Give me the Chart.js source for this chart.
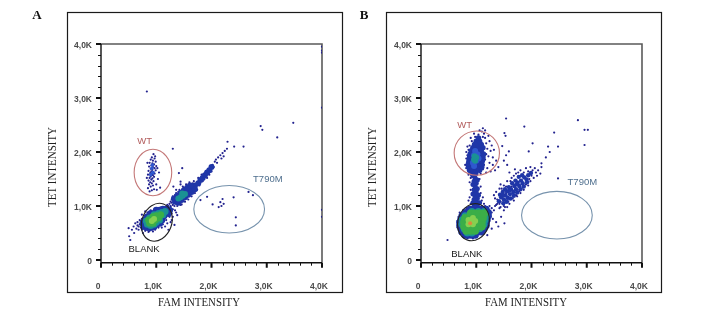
<!DOCTYPE html>
<html>
<head>
<meta charset="utf-8">
<script src="https://cdn.jsdelivr.net/npm/chart.js@4.4.1/dist/chart.umd.min.js"></script>
<style>
  body { margin: 0; background: #fff; width: 708px; height: 309px; position: relative; overflow: hidden; }
  .panel { position: absolute; top: 0; width: 325px; height: 309px; }
</style>
</head>
<body>
<div class="panel" style="left:25px"><canvas id="chartA" width="325" height="309"></canvas></div>
<div class="panel" style="left:345px"><canvas id="chartB" width="325" height="309"></canvas></div>
<script>
/* Axes (values in K) */
const majorTicks = [0, 1, 2, 3, 4];
const tickLabels = ["0", "1,0K", "2,0K", "3,0K", "4,0K"];
const minorTicks = [0.2, 0.4, 0.6, 0.8, 1.2, 1.4, 1.6, 1.8, 2.2, 2.4, 2.6, 2.8, 3.2, 3.4, 3.6, 3.8];

/* Panel A droplets [FAM, TET] in K */
const aBlankBody = [[0.78,0.62],[0.84,0.60],[0.90,0.60],[0.96,0.62],[0.76,0.68],[0.82,0.68],[0.88,0.66],[0.94,0.66],[1.00,0.66],[1.06,0.68],[0.80,0.74],[0.86,0.74],[0.92,0.72],[0.98,0.72],[1.04,0.74],[1.10,0.74],[0.84,0.80],[0.90,0.80],[0.96,0.80],[1.02,0.80],[1.08,0.80],[1.14,0.82],[0.90,0.86],[0.96,0.86],[1.02,0.86],[1.08,0.86],[1.14,0.88],[1.20,0.88],[1.00,0.92],[1.06,0.92],[1.12,0.94],[1.18,0.94],[1.24,0.92],[1.22,0.86]];
const aBlankTeal = [[0.84,0.66],[0.90,0.64],[0.96,0.66],[0.82,0.72],[0.88,0.70],[0.94,0.70],[1.00,0.70],[1.06,0.74],[0.88,0.78],[0.94,0.78],[1.00,0.78],[1.06,0.80],[1.12,0.84],[0.96,0.84],[1.04,0.86],[1.10,0.88],[1.16,0.90]];
const aBlankGreen = [[0.88,0.68],[0.94,0.68],[0.86,0.74],[0.92,0.74],[0.98,0.74],[1.04,0.78],[0.94,0.80],[1.00,0.82],[1.08,0.84],[0.90,0.72]];
const aBlankLight = [[0.92,0.72],[0.96,0.76]];
const aBlankDots = [[0.72,0.60],[0.70,0.66],[0.74,0.56],[0.80,0.54],[0.88,0.54],[0.98,0.56],[1.04,0.60],[1.12,0.66],[1.18,0.74],[1.24,0.80],[1.28,0.86],[1.30,0.94],[1.26,0.98],[1.18,0.99],[1.08,0.97],[0.98,0.95],[0.90,0.92],[0.84,0.88],[0.78,0.82],[0.74,0.76],[0.72,0.72],[1.28,0.74],[1.33,0.65],[1.22,0.56],[1.38,0.83],[1.16,0.62],[1.34,0.92],[0.50,0.59],[0.56,0.56],[0.59,0.62],[0.51,0.44],[0.62,0.68],[0.68,0.62],[0.53,0.37],[0.64,0.58],[0.66,0.70],[0.60,0.50],[1.26,1.00],[1.30,1.02],[1.28,1.06],[1.33,1.00],[1.24,1.04],[1.22,1.00],[0.68,0.56],[0.76,0.50],[0.86,0.52],[0.94,0.53],[1.10,0.60],[1.20,0.68],[1.26,0.70],[1.30,0.80],[1.36,0.88],[1.32,1.06],[1.20,1.02],[0.80,0.90],[0.74,0.84],[0.70,0.74],[0.66,0.64]];
const aMidBody = [[1.34,1.08],[1.40,1.13],[1.46,1.18],[1.52,1.23],[1.58,1.28],[1.64,1.33],[1.70,1.38],[1.32,1.14],[1.38,1.19],[1.44,1.24],[1.50,1.29],[1.56,1.34],[1.62,1.38],[1.40,1.06],[1.46,1.11],[1.52,1.16],[1.58,1.21],[1.64,1.26],[1.70,1.31],[1.76,1.42],[1.80,1.48],[1.84,1.52],[1.88,1.57],[1.92,1.62],[1.96,1.66],[2.00,1.72]];
const aMidTeal = [[1.44,1.16],[1.48,1.19],[1.52,1.22],[1.47,1.23],[1.40,1.14]];
const aMidDots = [[1.28,1.12],[1.30,1.18],[1.36,1.24],[1.42,1.30],[1.48,1.36],[1.54,1.40],[1.60,1.44],[1.68,1.46],[1.76,1.44],[1.78,1.38],[1.74,1.30],[1.70,1.24],[1.64,1.18],[1.58,1.12],[1.52,1.08],[1.46,1.03],[1.38,1.00],[1.36,1.30],[1.44,1.40],[1.80,1.50],[1.86,1.58],[1.90,1.60],[1.94,1.68],[1.98,1.74],[2.02,1.76],[2.06,1.82],[2.08,1.86],[2.12,1.90],[2.16,1.94],[2.20,1.98],[2.24,2.02],[2.28,2.06],[2.04,1.72],[1.82,1.58],[2.10,1.80],[2.18,1.88],[2.22,1.92],[1.76,1.52],[1.84,1.46],[1.92,1.52],[1.96,1.58],[2.00,1.64],[1.26,1.08],[1.34,1.20],[1.40,1.26],[1.50,1.34],[1.58,1.40],[1.66,1.42],[1.72,1.36],[1.68,1.28],[1.62,1.22],[1.56,1.16],[1.48,1.10],[1.42,1.04],[1.36,1.04]];
const aWtDots = [[0.95,1.96],[0.92,1.90],[0.97,1.88],[0.90,1.86],[0.94,1.84],[0.99,1.82],[0.88,1.80],[0.93,1.79],[0.96,1.77],[0.91,1.75],[1.00,1.74],[0.87,1.73],[0.94,1.72],[0.97,1.70],[0.90,1.69],[0.93,1.67],[0.99,1.66],[0.86,1.65],[0.91,1.64],[0.95,1.63],[0.89,1.61],[0.97,1.60],[0.92,1.59],[0.85,1.58],[0.94,1.57],[0.90,1.55],[0.96,1.54],[0.88,1.52],[0.93,1.51],[0.91,1.49],[0.86,1.47],[0.95,1.46],[0.89,1.44],[0.92,1.42],[0.87,1.40],[0.94,1.38],[0.90,1.36],[0.85,1.33],[0.96,1.31],[0.92,1.29],[0.88,1.27],[1.02,1.70],[1.05,1.62],[1.03,1.50],[1.07,1.34],[0.84,1.80],[0.83,1.52],[1.00,1.40],[1.01,1.30],[0.98,1.92]];
const aWtBody = [[0.92,1.70],[0.94,1.62],[0.90,1.58],[0.93,1.76]];
const aStray = [[1.30,2.06],[1.47,1.70],[1.41,1.61],[1.44,1.45],[1.31,1.36],[2.29,2.19],[2.41,2.10],[2.58,2.10],[2.89,2.48],[2.92,2.41],[3.19,2.27],[3.48,2.54],[1.80,1.11],[1.92,1.17],[1.44,1.02],[0.83,3.12],[4.0,3.95],[4.0,3.88],[4.0,3.84],[4.0,2.82],[4.0,0.93],[4.0,0.80],[2.02,1.03],[2.16,1.07],[2.20,1.13],[2.13,0.98],[2.40,1.16],[2.67,1.26],[2.75,1.20],[2.44,0.79],[2.44,0.64],[2.18,1.00],[2.22,1.04]];

/* Panel B droplets [FAM, TET] in K */
const bBlankBody = [[0.80,0.46],[0.86,0.46],[0.92,0.46],[0.98,0.46],[0.74,0.52],[0.80,0.52],[0.86,0.52],[0.92,0.52],[0.98,0.52],[1.04,0.52],[1.10,0.52],[0.72,0.58],[0.78,0.58],[0.84,0.58],[0.90,0.58],[0.96,0.58],[1.02,0.58],[1.08,0.58],[1.14,0.58],[0.70,0.64],[0.76,0.64],[0.82,0.64],[0.88,0.64],[0.94,0.64],[1.00,0.64],[1.06,0.64],[1.12,0.64],[1.18,0.64],[0.70,0.70],[0.76,0.70],[0.82,0.70],[0.88,0.70],[0.94,0.70],[1.00,0.70],[1.06,0.70],[1.12,0.70],[1.18,0.70],[0.72,0.76],[0.78,0.76],[0.84,0.76],[0.90,0.76],[0.96,0.76],[1.02,0.76],[1.08,0.76],[1.14,0.76],[1.20,0.76],[0.74,0.82],[0.80,0.82],[0.86,0.82],[0.92,0.82],[0.98,0.82],[1.04,0.82],[1.10,0.82],[1.16,0.82],[1.22,0.82],[0.80,0.88],[0.86,0.88],[0.92,0.88],[0.98,0.88],[1.04,0.88],[1.10,0.88],[1.16,0.88],[1.22,0.88],[0.88,0.94],[0.94,0.94],[1.00,0.94],[1.06,0.94],[1.12,0.94],[1.18,0.94]];
const bBlankTeal = [[0.84,0.50],[0.92,0.50],[0.78,0.58],[1.06,0.58],[0.74,0.66],[1.14,0.66],[0.74,0.74],[1.16,0.74],[0.80,0.82],[1.18,0.82],[0.92,0.90],[1.04,0.90],[1.14,0.90]];
const bBlankGreen = [[0.82,0.54],[0.90,0.54],[0.98,0.54],[0.78,0.62],[0.86,0.62],[0.94,0.62],[1.02,0.62],[1.10,0.62],[0.78,0.70],[0.86,0.70],[0.94,0.70],[1.02,0.70],[1.10,0.70],[0.80,0.78],[0.88,0.78],[0.96,0.78],[1.04,0.78],[1.12,0.78],[0.90,0.86],[0.98,0.86],[1.06,0.86],[1.14,0.86]];
const bBlankLight = [[0.86,0.66],[0.94,0.66],[0.90,0.72],[0.98,0.72],[0.86,0.74],[0.94,0.78]];
const bBlankCentre = [[0.89,0.68]];
const bBlankDots = [[0.66,0.60],[0.66,0.72],[0.68,0.80],[0.70,0.88],[0.76,0.92],[0.82,0.96],[0.70,0.50],[0.76,0.44],[0.84,0.40],[0.94,0.40],[1.02,0.44],[1.10,0.48],[1.18,0.56],[1.22,0.64],[1.24,0.72],[1.26,0.80],[1.28,0.88],[1.28,0.96],[1.24,1.00],[1.16,1.00],[1.30,0.76],[1.32,0.92],[1.34,1.00],[0.48,0.37],[1.51,0.68],[1.40,0.62],[1.36,0.70],[1.45,0.80],[1.50,0.92],[1.42,0.96],[1.38,1.04],[1.44,1.08],[1.56,0.98],[1.20,0.46],[1.28,0.58]];
const bStemBody = [[0.96,1.00],[1.02,1.02],[0.94,1.06],[1.00,1.08],[1.06,1.06],[0.96,1.12],[1.02,1.14],[0.98,1.18],[1.04,1.20],[0.94,1.22],[1.00,1.26],[0.96,1.30],[1.02,1.32],[0.98,1.36],[0.94,1.40],[1.00,1.42],[0.96,1.46],[1.02,1.48],[0.98,1.52],[0.94,1.56]];
const bStemDots = [[0.90,1.04],[1.10,1.10],[0.88,1.16],[1.08,1.24],[0.90,1.30],[1.08,1.36],[0.88,1.44],[1.06,1.50],[0.90,1.52],[1.10,1.00],[1.14,1.04],[1.12,1.16],[0.86,1.10]];
const bWtBody = [[0.93,1.60],[0.99,1.60],[0.88,1.66],[0.94,1.66],[1.00,1.66],[1.06,1.66],[0.86,1.72],[0.92,1.72],[0.98,1.72],[1.04,1.72],[1.10,1.72],[0.86,1.78],[0.92,1.78],[0.98,1.78],[1.04,1.78],[1.10,1.78],[0.87,1.84],[0.93,1.84],[0.99,1.84],[1.05,1.84],[1.11,1.84],[0.88,1.90],[0.94,1.90],[1.00,1.90],[1.06,1.90],[1.12,1.90],[0.89,1.96],[0.95,1.96],[1.01,1.96],[1.07,1.96],[1.13,1.96],[0.91,2.02],[0.97,2.02],[1.03,2.02],[1.09,2.02],[0.94,2.08],[1.00,2.08],[1.06,2.08],[1.12,2.08],[0.97,2.14],[1.03,2.14],[1.09,2.14],[1.00,2.20],[1.06,2.20],[1.04,2.26]];
const bWtBlue = [[0.94,1.80],[1.00,1.84],[0.96,1.94],[1.02,1.96],[0.98,2.02],[0.96,1.74],[1.04,1.88]];
const bWtTeal = [[0.96,1.86],[1.00,1.90],[0.98,1.84],[0.97,1.92]];
const bWtDots = [[0.82,1.70],[0.84,1.82],[0.84,1.94],[0.86,2.04],[0.88,2.12],[0.92,2.20],[0.98,2.28],[1.04,2.32],[1.10,2.38],[1.14,2.34],[1.16,2.26],[1.18,2.16],[1.20,2.06],[1.18,1.96],[1.16,1.86],[1.14,1.76],[1.12,1.68],[1.08,1.60],[0.88,1.62],[1.26,2.02],[1.30,1.90],[1.24,1.80],[1.22,2.30],[1.06,2.40],[1.28,2.12],[1.12,2.28],[1.20,1.70],[1.26,1.64],[1.36,1.84],[1.40,1.72],[1.34,1.66],[0.80,1.76],[0.82,1.88],[0.82,2.00],[0.84,2.10],[1.22,1.92],[1.24,2.20],[1.16,2.40],[1.12,2.44],[0.96,2.34],[0.90,2.26],[1.30,1.76],[1.32,2.04],[0.86,1.58],[1.18,1.62]];
const bMidBody = [[1.41,1.09],[1.45,1.16],[1.50,1.12],[1.53,1.20],[1.57,1.15],[1.56,1.27],[1.61,1.22],[1.63,1.31],[1.67,1.26],[1.69,1.37],[1.72,1.31],[1.75,1.43],[1.78,1.37],[1.81,1.47],[1.84,1.42],[1.87,1.53],[1.91,1.49],[1.94,1.57],[1.99,1.61],[1.43,1.21],[1.48,1.26],[1.52,1.31],[1.59,1.35],[1.65,1.42],[1.71,1.47],[1.77,1.54],[1.83,1.57],[1.49,1.05],[1.55,1.08],[1.62,1.14],[1.68,1.19],[1.74,1.25],[1.80,1.31],[1.86,1.36],[1.92,1.44],[1.47,1.19],[1.60,1.29],[1.73,1.40]];
const bMidDots = [[1.36,1.02],[1.34,1.14],[1.36,1.26],[1.42,1.32],[1.50,1.38],[1.56,1.46],[1.64,1.52],[1.72,1.60],[1.80,1.66],[1.90,1.70],[1.98,1.72],[2.06,1.70],[2.12,1.66],[2.16,1.60],[2.10,1.56],[2.04,1.52],[1.98,1.46],[1.94,1.38],[1.86,1.30],[1.80,1.24],[1.74,1.18],[1.68,1.10],[1.60,1.04],[1.52,0.98],[1.44,0.98],[1.60,1.62],[1.70,1.68],[2.18,1.72],[1.44,1.40],[1.32,1.20],[1.38,1.12],[1.46,1.32],[1.54,1.36],[1.62,1.46],[1.68,1.56],[1.76,1.62],[1.86,1.62],[1.94,1.64],[2.02,1.66],[2.08,1.62],[1.96,1.50],[1.90,1.40],[1.84,1.34],[1.78,1.28],[1.72,1.20],[1.66,1.14],[1.58,1.08],[1.50,1.00],[1.42,1.04],[2.00,1.56],[1.64,1.36],[1.54,1.24]];
const bStray = [[1.54,2.62],[1.87,2.47],[2.84,2.59],[2.96,2.41],[3.02,2.41],[2.96,2.13],[2.41,2.36],[2.02,2.16],[2.30,2.10],[2.48,2.10],[2.18,1.79],[2.48,1.51],[1.51,2.35],[1.54,1.94],[1.53,2.30],[1.47,2.11],[1.95,2.01],[2.33,2.00],[1.59,2.01],[1.50,1.84],[1.56,1.76],[2.26,1.90]];

/* Gates: [name, centre FAM, centre TET, radius FAM, radius TET, tilt deg] */
const aGates = [["WT", 0.94, 1.62, 0.34, 0.43, 0], ["BLANK", 1.01, 0.70, 0.27, 0.36, 20], ["T790M", 2.32, 0.94, 0.64, 0.44, 0]];
const bGates = [["WT", 1.01, 1.98, 0.41, 0.41, 0], ["BLANK", 0.95, 0.70, 0.28, 0.35, 20], ["T790M", 2.46, 0.83, 0.64, 0.44, 0]];
/* Gate labels: [text, FAM, TET] */
const aGateLabels = [["WT", 0.79, 2.20], ["BLANK", 0.78, 0.20], ["T790M", 3.02, 1.50]];
const bGateLabels = [["WT", 0.79, 2.49], ["BLANK", 0.83, 0.10], ["T790M", 2.92, 1.43]];

const gateColor = { WT: "#c47878", BLANK: "#222222", T790M: "#7793ad" };
const labelColor = { WT: "#b25c5c", BLANK: "#1a1a1a", T790M: "#4f6f8e" };

const NAVY = "#23238f";
const BODY = "#1f36a8";
const BLUE = "#2f58cf";
const TEAL = "#1a9294";
const GREEN = "#3bae48";
const LIGHT = "#86d050";
const ORANGE = "#d98a3c";

function layer(points, color, radius) {
  return {
    data: points.map((p) => ({ x: p[0], y: p[1] })),
    pointRadius: radius,
    pointBackgroundColor: color,
    pointBorderWidth: 0,
    showLine: false
  };
}

/* Decorations: frame, ticks, gates, titles */
const panelDecor = {
  id: "panelDecor",
  beforeDatasetsDraw(chart, args, opts) {
    const ctx = chart.ctx;
    const xs = chart.scales.x;
    const ys = chart.scales.y;
    const a = chart.chartArea;
    ctx.save();
    // grey frame top + right
    ctx.strokeStyle = "#5a5a5a";
    ctx.lineWidth = 1.6;
    ctx.beginPath();
    ctx.moveTo(a.left, a.top);
    ctx.lineTo(a.right, a.top);
    ctx.lineTo(a.right, a.bottom);
    ctx.stroke();
    // axes
    ctx.strokeStyle = "#111";
    ctx.lineWidth = 1.4;
    ctx.beginPath();
    ctx.moveTo(a.left, a.top);
    ctx.lineTo(a.left, a.bottom);
    ctx.lineTo(a.right, a.bottom);
    ctx.stroke();
    // ticks
    ctx.lineWidth = 1;
    minorTicks.forEach((v) => {
      const px = Math.round(xs.getPixelForValue(v)) + 0.5;
      const py = Math.round(ys.getPixelForValue(v)) + 0.5;
      ctx.beginPath();
      ctx.moveTo(px, a.bottom);
      ctx.lineTo(px, a.bottom + 3);
      ctx.moveTo(a.left, py);
      ctx.lineTo(a.left - 3, py);
      ctx.stroke();
    });
    ctx.lineWidth = 2;
    majorTicks.forEach((v) => {
      const px = xs.getPixelForValue(v);
      const py = ys.getPixelForValue(v);
      ctx.beginPath();
      ctx.moveTo(px, a.bottom);
      ctx.lineTo(px, a.bottom + 5);
      ctx.moveTo(a.left, py);
      ctx.lineTo(a.left - 5, py);
      ctx.stroke();
    });
    ctx.restore();
  },
  afterDatasetsDraw(chart, args, opts) {
    const ctx = chart.ctx;
    const xs = chart.scales.x;
    const ys = chart.scales.y;
    ctx.save();
    ctx.lineWidth = 1.1;
    opts.gates.forEach((g) => {
      const cx = xs.getPixelForValue(g[1]);
      const cy = ys.getPixelForValue(g[2]);
      const rx = xs.getPixelForValue(g[1] + g[3]) - cx;
      const ry = cy - ys.getPixelForValue(g[2] + g[4]);
      ctx.strokeStyle = gateColor[g[0]];
      ctx.beginPath();
      ctx.ellipse(cx, cy, rx, ry, (g[5] * Math.PI) / 180, 0, Math.PI * 2);
      ctx.stroke();
    });
    ctx.font = '9.5px "Liberation Sans", Arial, sans-serif';
    ctx.textAlign = "center";
    ctx.textBaseline = "middle";
    opts.labels.forEach((l) => {
      ctx.fillStyle = labelColor[l[0]];
      ctx.fillText(l[0], xs.getPixelForValue(l[1]), ys.getPixelForValue(l[2]));
    });
    ctx.restore();
  },
  afterDraw(chart, args, opts) {
    const ctx = chart.ctx;
    ctx.save();
    // outer box
    ctx.strokeStyle = "#1a1a1a";
    ctx.lineWidth = 1.2;
    ctx.strokeRect(opts.boxLeft + 0.5, 12.5, 275, 280);
    // panel letter
    ctx.fillStyle = "#111";
    ctx.font = 'bold 13px "Liberation Serif", "Times New Roman", serif';
    ctx.textAlign = "center";
    ctx.textBaseline = "middle";
    ctx.fillText(opts.letter, opts.letterX, 16);
    // axis titles
    ctx.fillStyle = "#222";
    ctx.font = '13px "Liberation Serif", "Times New Roman", serif';
    ctx.fillText("FAM INTENSITY", opts.titleX, 303, 82);
    ctx.translate(28, 167);
    ctx.rotate(-Math.PI / 2);
    ctx.fillText("TET INTENSITY", 0, 0, 80);
    ctx.restore();
  }
};

function makePanel(id, datasets, decor) {
  return new Chart(document.getElementById(id), {
    type: "scatter",
    data: { datasets: datasets },
    plugins: [panelDecor],
    options: {
      responsive: false,
      animation: false,
      events: [],
      layout: { padding: { top: 44, right: 28, left: 0, bottom: 0 } },
      plugins: {
        legend: { display: false },
        tooltip: { enabled: false },
        panelDecor: decor
      },
      scales: {
        x: {
          type: "linear",
          min: 0,
          max: 4,
          grid: { display: false, drawTicks: false },
          border: { display: false },
          afterBuildTicks: (s) => { s.ticks = majorTicks.map((v) => ({ value: v })); },
          afterFit: (s) => { s.height = 46.3; },
          ticks: {
            autoSkip: false,
            maxRotation: 0,
            padding: 19,
            labelOffset: -3,
            color: "#4a4a4a",
            font: { family: "'Liberation Sans', Arial, sans-serif", size: 8.5, weight: "bold" },
            callback: (v) => tickLabels[majorTicks.indexOf(v)] ?? ""
          }
        },
        y: {
          type: "linear",
          min: -0.05,
          max: 4,
          grid: { display: false, drawTicks: false },
          border: { display: false },
          afterBuildTicks: (s) => { s.ticks = majorTicks.map((v) => ({ value: v })); },
          afterFit: (s) => { s.width = 76; },
          ticks: {
            autoSkip: false,
            padding: 9,
            labelOffset: 2,
            color: "#4a4a4a",
            font: { family: "'Liberation Sans', Arial, sans-serif", size: 8.5, weight: "bold" },
            callback: (v) => tickLabels[majorTicks.indexOf(v)] ?? ""
          }
        }
      }
    }
  });
}

/* first dataset is drawn on top */
makePanel("chartA", [
  layer(aBlankLight, LIGHT, 3),
  layer(aBlankGreen, GREEN, 3.5),
  layer(aBlankTeal, TEAL, 3.5),
  layer(aMidTeal, TEAL, 3),
  layer(aWtBody, BLUE, 1.8),
  layer(aBlankBody, BODY, 3.5),
  layer(aMidBody, BODY, 3),
  layer(aBlankDots, NAVY, 1.1),
  layer(aMidDots, NAVY, 1.1),
  layer(aWtDots, NAVY, 1.1),
  layer(aStray, NAVY, 1.1)
], { gates: aGates, labels: aGateLabels, letter: "A", letterX: 12, titleX: 174, boxLeft: 42 });

makePanel("chartB", [
  layer(bBlankCentre, ORANGE, 2),
  layer(bBlankLight, LIGHT, 3),
  layer(bBlankGreen, GREEN, 4),
  layer(bBlankTeal, TEAL, 3.5),
  layer(bWtTeal, TEAL, 3),
  layer(bWtBlue, BLUE, 3),
  layer(bBlankBody, BODY, 3.5),
  layer(bWtBody, BODY, 2.8),
  layer(bStemBody, BODY, 2.5),
  layer(bMidBody, BODY, 2.2),
  layer(bBlankDots, NAVY, 1.1),
  layer(bStemDots, NAVY, 1.1),
  layer(bWtDots, NAVY, 1.1),
  layer(bMidDots, NAVY, 1.1),
  layer(bStray, NAVY, 1.1)
], { gates: bGates, labels: bGateLabels, letter: "B", letterX: 19, titleX: 181, boxLeft: 41 });
</script>
</body>
</html>
